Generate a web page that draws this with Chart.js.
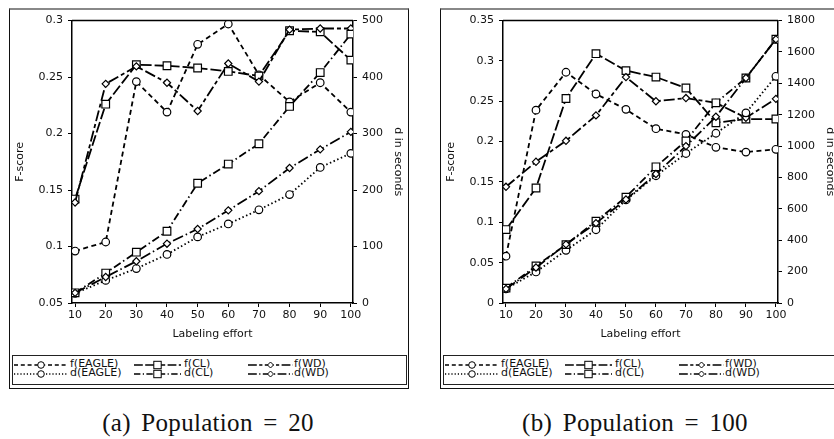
<!DOCTYPE html>
<html><head><meta charset="utf-8">
<script src="https://cdn.jsdelivr.net/npm/chart.js@4"></script>
<style>
html,body{margin:0;padding:0;background:#fff;overflow:hidden;width:834px;height:439px;position:relative;font-family:"DejaVu Sans",sans-serif;}
.frame{position:absolute;top:8px;height:381px;border:1px solid #111;border-top:2px solid #888;box-sizing:border-box;}
canvas{position:absolute;}
.legend{position:absolute;top:355px;height:30px;border:1px solid #222;box-sizing:border-box;}
.item{position:absolute;height:10px;}
.item svg{position:absolute;left:0;top:0;overflow:visible;}
.item span{position:absolute;top:-3px;font-size:11px;color:#111;white-space:nowrap;line-height:14px;}
.caption{position:absolute;top:409px;width:340px;text-align:center;font-family:"Liberation Serif",serif;font-size:25px;letter-spacing:0.3px;word-spacing:4px;color:#111;white-space:nowrap;}
</style></head>
<body>
<div class="frame" style="left:9px;width:400px"></div>
<div class="frame" style="left:440px;width:430px"></div>
<canvas id="cA" width="398" height="336" style="left:10px;top:9px"></canvas>
<canvas id="cB" width="399" height="336" style="left:441px;top:9px"></canvas>
<div class="legend" id="legA" style="left:12px;width:395px"></div>
<div class="legend" id="legB" style="left:443px;width:420px"></div>
<div class="caption" id="capA" style="left:38px"></div>
<div class="caption" id="capB" style="left:465px"></div>
<script>
// ---------- data ----------
const labelingEffort = [10, 20, 30, 40, 50, 60, 70, 80, 90, 100];
const seriesNames = ['f(EAGLE)', 'f(CL)', 'f(WD)', 'd(EAGLE)', 'd(CL)', 'd(WD)'];
const captions = ['(a) Population = 20', '(b) Population = 100'];
const xTitle = 'Labeling effort';
const leftTitle = 'F-score';
const rightTitle = 'd in seconds';

// Population = 20
const pop20_fEAGLE = [0.096, 0.104, 0.246, 0.219, 0.279, 0.297, 0.252, 0.228, 0.245, 0.219];
const pop20_fCL    = [0.142, 0.226, 0.261, 0.260, 0.258, 0.255, 0.251, 0.291, 0.290, 0.265];
const pop20_fWD    = [0.139, 0.244, 0.2595, 0.245, 0.220, 0.262, 0.246, 0.292, 0.293, 0.293];
const pop20_dEAGLE = [17, 40, 61, 86, 117, 140, 165, 192, 240, 265];
const pop20_dCL    = [18, 53, 90, 127, 212, 246, 282, 348, 408, 476];
const pop20_dWD    = [18, 46, 74, 105, 131, 164, 198, 239, 272, 303];
const pop20_fTicks = [0.05, 0.1, 0.15, 0.2, 0.25, 0.3];
const pop20_dTicks = [0, 100, 200, 300, 400, 500];

// Population = 100
const pop100_fEAGLE = [0.058, 0.239, 0.286, 0.259, 0.240, 0.216, 0.209, 0.193, 0.187, 0.1905];
const pop100_fCL    = [0.091, 0.1425, 0.2535, 0.309, 0.288, 0.280, 0.2665, 0.2234, 0.228, 0.228];
const pop100_fWD    = [0.144, 0.175, 0.201, 0.2325, 0.280, 0.250, 0.254, 0.248, 0.2296, 0.253];
const pop100_dEAGLE = [90, 198, 336, 467, 657, 811, 953, 1082, 1212, 1445];
const pop100_dCL    = [95, 236, 372, 522, 675, 868, 1033, 1276, 1434, 1681];
const pop100_dWD    = [90, 226, 374, 509, 660, 822, 1000, 1187, 1434, 1681];
const pop100_fTicks = [0, 0.05, 0.1, 0.15, 0.2, 0.25, 0.3, 0.35];
const pop100_dTicks = [0, 200, 400, 600, 800, 1000, 1200, 1400, 1600, 1800];

// ---------- styles ----------
const seriesStyle = [
  {dash: [5, 3.5], point: 'circle', r: 3.8, axis: 'yF'},
  {dash: [11, 3], point: 'rect', r: 5.4, axis: 'yF'},
  {dash: [11, 3, 4, 3], point: 'rectRot', r: 3.6, axis: 'yF'},
  {dash: [1.5, 2.5], point: 'circle', r: 3.8, axis: 'yD'},
  {dash: [8, 3, 1.5, 3], point: 'rect', r: 5.4, axis: 'yD'},
  {dash: [11, 3, 1.5, 3], point: 'rectRot', r: 3.6, axis: 'yD'}
];
const FONT = {family: 'DejaVu Sans', size: 11};
const INK = '#111';

const topBorder = {
  id: 'topBorder',
  afterDraw(c) {
    const a = c.chartArea, ctx = c.ctx;
    ctx.save(); ctx.strokeStyle = '#000'; ctx.lineWidth = 1.5;
    ctx.beginPath(); ctx.moveTo(a.left, a.top); ctx.lineTo(a.right, a.top); ctx.stroke();
    ctx.restore();
  }
};

function fixTicks(list) {
  return function(scale) { scale.ticks = list.map(v => ({value: v})); };
}

function makeChart(id, seriesData, fTicks, dTicks, widths) {
  const datasets = seriesData.map((vals, i) => {
    const s = seriesStyle[i];
    return {
      label: seriesNames[i],
      data: labelingEffort.map((x, k) => ({x: x, y: vals[k]})),
      yAxisID: s.axis,
      borderColor: '#000', borderWidth: 1.8, borderDash: s.dash,
      pointStyle: s.point, pointRadius: s.r, pointBorderWidth: 1.2,
      pointBackgroundColor: '#fff', pointBorderColor: '#000',
      tension: 0, fill: false, order: seriesNames.length - i
    };
  });
  const axisCommon = {
    border: {display: true, color: '#000', width: 1.5},
    grid: {drawOnChartArea: false, drawTicks: true, tickLength: 4, color: '#000', tickWidth: 1},
  };
  return new Chart(document.getElementById(id), {
    type: 'line',
    data: {datasets},
    options: {
      responsive: false, animation: false,
      layout: {padding: {top: 10, left: 0, right: 0, bottom: 0}},
      plugins: {legend: {display: false}, tooltip: {enabled: false}},
      scales: {
        x: Object.assign({}, axisCommon, {
          type: 'linear', min: 9, max: 100.7,
          afterBuildTicks: fixTicks(labelingEffort),
          afterFit(s) { s.height = 42; },
          ticks: {font: FONT, color: INK, padding: 2, autoSkip: false, maxRotation: 0, callback: v => String(v)},
          title: {display: true, text: xTitle, font: FONT, color: INK, padding: {top: 2, bottom: 4}}
        }),
        yF: Object.assign({}, axisCommon, {
          type: 'linear', position: 'left',
          min: fTicks[0], max: fTicks[fTicks.length - 1],
          afterBuildTicks: fixTicks(fTicks),
          afterFit(s) { s.width = widths[0]; },
          ticks: {font: FONT, color: INK, padding: 5, autoSkip: false, callback: v => String(v)},
          title: {display: true, text: leftTitle, font: FONT, color: INK, padding: {top: 4, bottom: 4}}
        }),
        yD: Object.assign({}, axisCommon, {
          type: 'linear', position: 'right',
          min: dTicks[0], max: dTicks[dTicks.length - 1],
          afterBuildTicks: fixTicks(dTicks),
          afterFit(s) { s.width = widths[1]; },
          ticks: {font: FONT, color: INK, padding: 5, autoSkip: false, callback: v => String(v)},
          title: {display: true, text: rightTitle, font: FONT, color: INK, padding: {top: 4, bottom: 4}}
        })
      }
    },
    plugins: [topBorder]
  });
}

makeChart('cA', [pop20_fEAGLE, pop20_fCL, pop20_fWD, pop20_dEAGLE, pop20_dCL, pop20_dWD], pop20_fTicks, pop20_dTicks, [62, 55]);
makeChart('cB', [pop100_fEAGLE, pop100_fCL, pop100_fWD, pop100_dEAGLE, pop100_dCL, pop100_dWD], pop100_fTicks, pop100_dTicks, [62, 62]);

// ---------- legends ----------
const legendSlots = [
  {sx: 1, sw: 54, tx: 57},
  {sx: 121, sw: 47, tx: 171},
  {sx: 235, sw: 45, tx: 281}
];
function markerSvg(s, cx, cy) {
  if (s.point === 'circle') return `<circle cx="${cx}" cy="${cy}" r="3.3" fill="#fff" stroke="#000" stroke-width="1"/>`;
  if (s.point === 'rect') return `<rect x="${cx-3.7}" y="${cy-3.7}" width="7.4" height="7.4" fill="#fff" stroke="#000" stroke-width="1"/>`;
  return `<polygon points="${cx-3},${cy} ${cx},${cy-3} ${cx+3},${cy} ${cx},${cy+3}" fill="#fff" stroke="#000" stroke-width="1"/>`;
}
function buildLegend(el) {
  seriesNames.forEach((name, i) => {
    const s = seriesStyle[i];
    const slot = legendSlots[i % 3];
    const row = Math.floor(i / 3);
    const top = 4 + row * 9;
    const div = document.createElement('div');
    div.className = 'item';
    div.style.left = slot.sx + 'px';
    div.style.top = top + 'px';
    const w = slot.sw, cy = 5, cx = w / 2;
    const dash = s.dash.map(v => v * 0.8).join(',');
    div.innerHTML = `<svg width="${w}" height="10"><line x1="0" y1="${cy}" x2="${w}" y2="${cy}" stroke="#000" stroke-width="1.5" stroke-dasharray="${dash}"/>${markerSvg(s, cx, cy)}</svg><span style="left:${slot.tx - slot.sx}px">${name}</span>`;
    el.appendChild(div);
  });
}
buildLegend(document.getElementById('legA'));
buildLegend(document.getElementById('legB'));
document.getElementById('capA').textContent = captions[0];
document.getElementById('capB').textContent = captions[1];
</script>
</body></html>
